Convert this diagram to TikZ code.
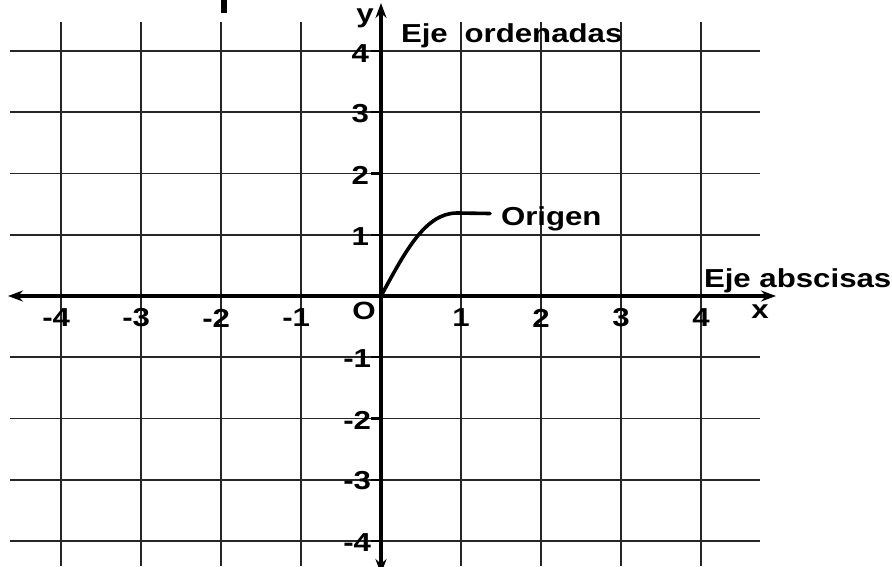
\documentclass[tikz,border=0pt]{standalone}
\usepackage{fontspec}
\setmainfont{Liberation Sans}
\usepackage{graphicx}
\usetikzlibrary{arrows.meta}
\newcommand{\widetxt}[1]{\scalebox{1.2}[1]{#1}}
\begin{document}
\begin{tikzpicture}[x=1pt,y=-1pt,
  gridline/.style={line width=1.7pt, black!85},
  axisline/.style={line width=3.2pt, black},
  tipped/.style={-{Stealth[length=15pt,width=11pt,inset=5pt]}},
  curveline/.style={line width=3.6pt, black, line cap=round},
  lbl/.style={font=\bfseries\fontsize{26}{26}\selectfont, inner sep=0pt, outer sep=0pt},
  small/.style={font=\bfseries\fontsize{25}{25}\selectfont, inner sep=0pt, outer sep=0pt}]
\useasboundingbox (0,0) rectangle (892,566);
\fill[white] (0,0) rectangle (892,566);
% fragment of a cut-off title
\fill[black] (221,0) rectangle (227,13);
% grid
\foreach \gx in {61,141,221,301,461,541,621,701}
  \draw[gridline] (\gx,22) -- (\gx,566);
\foreach \gy in {51,112.25,173.5,234.75,357.25,418.5,479.75,541}
  \draw[gridline] (10,\gy) -- (760,\gy);
% axes
\coordinate (xl) at (8,296);
\coordinate (xr) at (776,296);
\coordinate (yt) at (381,3);
\coordinate (yb) at (381,574);
\coordinate (O) at (381,296);
\draw[axisline, tipped] (O) -- (xr);
\draw[axisline, tipped] (O) -- (xl);
\draw[axisline, tipped] (O) -- (yt);
\draw[axisline, tipped] (O) -- (yb);
% ticks on y-axis
\foreach \gy in {51,112.25,173.5,234.75,357.25,418.5,479.75,541}
  \draw[line width=2.4pt] (371,\gy) -- (381,\gy);
% y labels
\foreach \v/\yy in {4/53.5,3/114,2/175.5,1/236.5}
  \node[lbl, anchor=east] (ylab\v) at (369,\yy) {\widetxt{\v}};
\foreach \v/\yy in {1/358.5,2/420,3/481,4/542.5}
  \node[lbl, anchor=east] (ylabm\v) at (371,\yy) {\widetxt{-\v}};
% x labels
\foreach \v/\xx in {1/461,2/541,3/621,4/701}
  \node[lbl] (xlab\v) at (\xx,318) {\widetxt{\v}};
\foreach \v/\xx in {1/301,2/221,3/141,4/61}
  \node[lbl, anchor=east] (xlabm\v) at (\xx+9,318) {\widetxt{-\v}};
% axis names
\node[small] (olab) at (364,311) {\widetxt{O}};
\node[lbl] (xname) at (760,312) {\widetxt{x}};
\node[lbl] (yname) at (365,18) {\widetxt{y}};
\node[lbl, anchor=base west] (ord) at (401,42) {\widetxt{Eje\hspace{14pt}ordenadas}};
\node[lbl, anchor=base west] (abs) at (704,287) {\widetxt{Eje abscisas}};
\node[lbl, anchor=base west] (orig) at (501,225.5) {\widetxt{Origen}};
% curve pointing to origin
\draw[curveline] (O) .. controls (405,252) and (425,213) .. (457,213) -- (490,213.5);
\end{tikzpicture}
\end{document}
